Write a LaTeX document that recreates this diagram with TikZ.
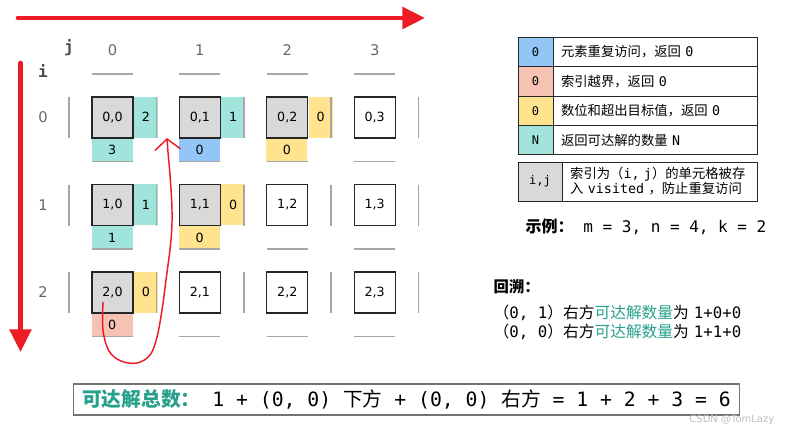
\documentclass[tikz,border=0pt]{standalone}
\usepackage{fontspec}
\setmainfont{DejaVu Sans}
\setmonofont{DejaVu Sans Mono}
\newfontfamily\cjk{Noto Sans CJK SC}
\usetikzlibrary{positioning,arrows.meta}

\definecolor{tealbg}{RGB}{160,228,220}
\definecolor{blueq}{RGB}{147,197,247}
\definecolor{pinkq}{RGB}{245,194,180}
\definecolor{yellowq}{RGB}{255,227,142}
\definecolor{cellgray}{RGB}{217,217,217}
\definecolor{pathred}{RGB}{237,28,36}
\definecolor{tealtxt}{RGB}{40,160,140}

\begin{document}
\begin{tikzpicture}[x=0.75pt, y=-0.75pt,
  cell/.style={draw=black!85, line width=0.9pt, minimum size=30.75pt, inner sep=0pt,
    font=\fontsize{9.5}{11}\selectfont},
  side/.style={minimum width=18pt, minimum height=30.75pt, inner sep=0pt, anchor=north west,
    font=\fontsize{9.5}{11}\selectfont},
  under/.style={minimum width=30.75pt, minimum height=17.25pt, inner sep=0pt, anchor=north west,
    font=\fontsize{9.5}{11}\selectfont},
  wall/.style={draw=black!35, line width=1.1pt},
  axis/.style={draw=pathred, line width=3.5pt, line cap=round, -{Triangle[length=17pt,width=16pt]}},
  index/.style={text=black!60, font=\fontsize{11}{13}\selectfont},
  key/.style={draw=black!85, line width=0.7pt, outer sep=0pt, inner sep=0pt,
    minimum width=26.25pt, minimum height=22pt, font=\ttfamily\fontsize{9}{11}\selectfont},
  desc/.style={draw=black!85, line width=0.7pt, outer sep=0pt, inner sep=0pt, inner xsep=6pt,
    minimum width=153pt, minimum height=22pt, text width=141pt, align=left,
    font=\fontsize{10}{11}\selectfont}
]
\useasboundingbox (0,0) rectangle (794,436);

  % Direction arrows
  \coordinate (jstart) at (18,18);
  \coordinate (jend) at (425,18);
  \coordinate (istart) at (20.5,63);
  \coordinate (iend) at (20.5,352);
  \draw[axis] (jstart) -- (jend);
  \draw[axis] (istart) -- (iend);

  % Indices
  \node[text=black!70, font=\ttfamily\bfseries\fontsize{12}{14}\selectfont] (jlab) at (69,48) {j};
  \node[text=black!70, font=\ttfamily\bfseries\fontsize{12}{14}\selectfont] (ilab) at (43,71) {i};
  \foreach \k in {0,1,2,3} {
    \node[index] (col\k) at (112.5+87.4*\k, 50) {\k};
  }
  \foreach \k in {0,1,2} {
    \node[index] (row\k) at (43, 117.5+87.5*\k) {\k};
  }

  % Grid cells
  \foreach \i/\j/\f in {0/0/cellgray, 0/1/cellgray, 0/2/cellgray, 0/3/white,
                        1/0/cellgray, 1/1/cellgray, 1/2/white, 1/3/white,
                        2/0/cellgray, 2/1/white, 2/2/white, 2/3/white} {
    \node[cell, fill=\f] (c\i\j) at (112.5+87.4*\j, 117.5+87.5*\i) {\i,\j};
  }

  % Returned values
  \node[side, fill=tealbg] (r00) at (c00.north east) {2};
  \node[under, fill=tealbg] (b00) at (c00.south west) {3};
  \node[side, fill=tealbg] (r01) at (c01.north east) {1};
  \node[under, fill=blueq] (b01) at (c01.south west) {0};
  \node[side, fill=yellowq] (r02) at (c02.north east) {0};
  \node[under, fill=yellowq] (b02) at (c02.south west) {0};
  \node[side, fill=tealbg] (r10) at (c10.north east) {1};
  \node[under, fill=tealbg] (b10) at (c10.south west) {1};
  \node[side, fill=yellowq] (r11) at (c11.north east) {0};
  \node[under, fill=yellowq] (b11) at (c11.south west) {0};
  \node[side, fill=yellowq] (r20) at (c20.north east) {0};
  \node[under, fill=pinkq] (b20) at (c20.south west) {0};

  % Walls
  \foreach \i in {0,1,2} {
    \foreach \k in {0,...,4} {
      \draw[wall] (69+87.4*\k, 97+87.5*\i) -- (69+87.4*\k, 138+87.5*\i);
    }
  }
  \foreach \k in {0,...,3} {
    \foreach \j in {0,...,3} {
      \draw[wall] (92+87.4*\j, 74+87.5*\k) -- (133+87.4*\j, 74+87.5*\k);
    }
  }

  % Backtracking path
  \coordinate (from) at (103,302);
  \coordinate (to) at (167,138);
  \draw[pathred, line width=1.1pt, -{Straight Barb[length=8pt,width=19pt]}]
    plot[smooth, tension=0.6] coordinates {(from) (103,330) (109,351) (121,361) (137,363)
      (150,355) (157,337) (162,310) (166,280) (171,240) (172,210) (170,175) (168,152) (to)};

  % Legend
  \node[key, fill=blueq] (k1) at (535.5,52) {0};
  \node[key, fill=pinkq, below=0pt of k1] (k2) {0};
  \node[key, fill=yellowq, below=0pt of k2] (k3) {0};
  \node[key, fill=tealbg, below=0pt of k3] (k4) {N};
  \node[desc, right=0pt of k1] (d1) {{\cjk 元素重复访问，返回} \texttt{0}};
  \node[desc, right=0pt of k2] (d2) {{\cjk 索引越界，返回} \texttt{0}};
  \node[desc, right=0pt of k3] (d3) {{\cjk 数位和超出目标值，返回} \texttt{0}};
  \node[desc, right=0pt of k4] (d4) {{\cjk 返回可达解的数量} \texttt{N}};

  \node[key, fill=cellgray, minimum width=33pt, minimum height=29.25pt] (k5) at (540,181.5) {i,j};
  \node[desc, right=0pt of k5, minimum width=146.25pt, text width=134pt, minimum height=29.25pt,
    font=\fontsize{10}{11.25}\selectfont] (d5)
    {{\cjk 索引为（}\texttt{i, j}{\cjk ）的单元格被存}\\{\cjk 入} \texttt{visited} {\cjk ，防止重复访问}};

  \node[anchor=west, font=\fontsize{12}{14}\selectfont] (example) at (521,227)
    {{\cjk\bfseries 示例：}\texttt{ m = 3, n = 4, k = 2}};

  % Backtracking notes
  \node[anchor=west, font=\cjk\bfseries\fontsize{11.5}{13}\selectfont] (note) at (489,287) {回溯：};
  \node[anchor=west, font=\fontsize{11.8}{13}\selectfont] (line1) at (489,313)
    {{\cjk （}\texttt{0, 1}{\cjk ）右方}{\cjk\color{tealtxt}可达解数量}{\cjk 为} \texttt{1+0+0}};
  \node[anchor=west, font=\fontsize{11.8}{13}\selectfont] (line2) at (489,332)
    {{\cjk （}\texttt{0, 0}{\cjk ）右方}{\cjk\color{tealtxt}可达解数量}{\cjk 为} \texttt{1+1+0}};

  % Total
  \node[draw=black!55, line width=0.8pt, minimum width=500pt, minimum height=23.25pt,
    font=\fontsize{14.8}{16}\selectfont] (total) at (406.5,399.5)
    {{\cjk\bfseries\color{tealtxt}可达解总数：}\texttt{ 1 + (0, 0) }{\cjk 下方}\texttt{ + (0, 0) }{\cjk 右方}\texttt{ = 1 + 2 + 3 = 6}};

  \node[anchor=east, text=black!25, font=\fontsize{7.5}{9}\selectfont] (mark) at (779,420) {CSDN @TomLazy};
\end{tikzpicture}
\end{document}
